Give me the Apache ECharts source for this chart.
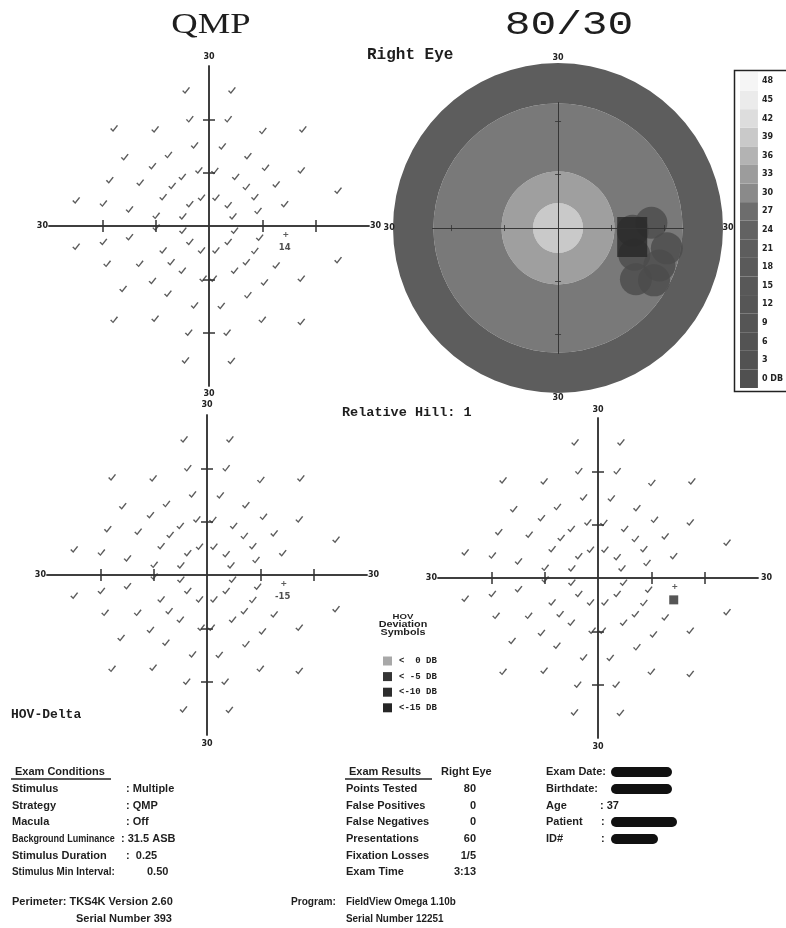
<!DOCTYPE html>
<html><head><meta charset="utf-8">
<script src="https://cdn.jsdelivr.net/npm/echarts@6/dist/echarts.min.js"></script>
<style>html,body{margin:0;padding:0;background:#fff}#c{width:786px;height:928px}</style>
</head><body><div id="c"></div>
<script>
// ---- data (degrees of visual field) ----
const checkPoints = [
  [-4.3,25.4],[4.3,25.4],
  [-3.6,20],[3.6,20],
  [-17.8,18.3],[-10.1,18.1],[10.1,17.8],[17.6,18.1],
  [-2.7,15.1],[2.5,14.9],
  [-15.8,12.9],[-7.6,13.3],[7.3,13.1],
  [-10.6,11.2],[-1.9,10.4],[1.1,10.3],[10.6,10.9],[17.3,10.4],
  [-5,9.2],[5,9.2],
  [-18.6,8.6],[-12.9,8.1],[-6.9,7.5],[7,7.3],[12.6,7.8],
  [24.2,6.6],
  [-8.6,5.4],[-1.4,5.3],[1.3,5.3],[8.6,5.4],
  [-24.9,4.8],[-19.8,4.2],[-3.6,4.1],[3.6,3.9],[14.2,4.1],
  [-14.9,3.1],[9.2,2.8],
  [-9.9,1.9],[-4.9,1.8],[4.5,1.8],
  [-9.9,-0.3],[-4.9,-0.9],[4.8,-0.9],
  [9.5,-2.2],[-14.9,-2.1],
  [-24.9,-3.9],[-19.8,-3],[-3.6,-3],[3.6,-3],
  [-8.6,-4.6],[-1.4,-4.6],[1.3,-4.6],[8.6,-4.7],
  [-19.1,-7.1],[-13,-7.1],[-7.1,-6.8],[7,-6.8],[12.6,-7.4],[24.2,-6.4],
  [-5,-8.4],[4.8,-8.4],
  [-1.1,-9.9],[0.8,-9.9],[17.3,-9.9],[10.4,-10.6],
  [-16.1,-11.8],[-10.6,-10.3],
  [-7.7,-12.7],[7.3,-13],
  [-2.7,-14.9],[2.3,-15],
  [-17.8,-17.6],[-10.1,-17.4],[10,-17.6],[17.3,-18],
  [-3.8,-20],[3.4,-20],
  [-4.4,-25.2],[4.2,-25.3]
];
const blindSpot = [[14.4,-1.6]];
const failedPoint = [[14.2,-4.1]];
const qmpThreshold = ['14'];
const hovDelta = ['-15'];
const tickValues = [-20,-10,10,20];
// polar threshold map: ring outer radius (deg) from centre outward
const ringOuterRadius = [4.7,10.6,23.4,31];
const ringColors = ['#c9c9c9','#9f9f9f','#797979','#5d5d5d'];
const defectBlob = [[17.5,1],[14,-0.5],[20.4,-3.8],[14.3,-5],[19,-7],[14.6,-9.6],[18,-9.8]];
const defectCore = [[13.9,-1.7]];
// colour scale
const colorbarLevels = ['0','3','6','9','12','15','18','21','24','27','30','33','36','39','42','45','48'];
const colorbarShades = ['#505050','#525252','#535353','#555555','#565656','#585858','#5a5a5a','#5d5d5d','#626262','#6d6d6d','#8a8a8a','#9c9c9c','#b3b3b3','#c9c9c9','#dddddd','#ebebeb','#f5f5f5'];
const legendLabels = ['<  0 DB','< -5 DB','<-10 DB','<-15 DB'];
const legendShades = ['#a8a8a8','#353535','#2d2d2d','#262626'];
const condLabels = ['Stimulus','Strategy','Macula','Background Luminance','Stimulus Duration','Stimulus Min Interval:'];
const condValues = [': Multiple',': QMP',': Off',': 31.5 ASB',':  0.25','0.50'];
const resLabels = ['Points Tested','False Positives','False Negatives','Presentations','Fixation Losses','Exam Time'];
const resValues = ['80','0','0','60','1/5','3:13'];
const patLabels = ['Exam Date:','Birthdate:','Age','Patient','ID#'];

// ---- styles ----
const CHECK = 'path://M0,5.6L1.5,4.5L3.6,7.1L8.5,0L10,1.1L3.8,9.8Z';
const PLUS = 'path://M4,0H6V4H10V6H6V10H4V6H0V4H4Z';
const SANS = '"Liberation Sans"';
const MONO = '"Liberation Mono"';
const axisName = {fontFamily:'DejaVu Sans', fontWeight:'bold', fontSize:8, color:'#222'};

const grids = [
  {left:49, top:66, width:320, height:320},
  {left:432.7, top:102.7, width:250.7, height:250.7},
  {left:47, top:415, width:320, height:320},
  {left:438, top:418, width:320, height:320},
  {left:740, top:72, width:22, height:316}
];
const xAxes = [], yAxes = [];
function crossAxes(g, range, o) {
  const ls = {color:o.color, width:o.width};
  const base = {type:'value', gridIndex:g, min:-range, max:range, axisLabel:{show:false},
    splitLine:{show:false}, z:o.z, name:'30', nameTextStyle:axisName};
  const tick = {show:true, inside:false, length:o.tick, customValues:tickValues, lineStyle:ls};
  const line = {show:true, onZero:true, onZeroAxisIndex:2*g, lineStyle:ls};
  xAxes.push({...base, position:'bottom', axisLine:line, axisTick:tick, nameLocation:'start', nameGap:o.gl});
  xAxes.push({...base, position:'top', axisLine:line, axisTick:tick, nameLocation:'end', nameGap:o.gr});
  yAxes.push({...base, position:'left', axisLine:line, axisTick:tick, nameLocation:'end', nameGap:o.gt});
  yAxes.push({...base, position:'right', axisLine:line, axisTick:tick, nameLocation:'start', nameGap:o.gb});
}
crossAxes(0, 30, {color:'#333', width:1.5, tick:6, z:1, gl:1, gr:1, gt:5, gb:4});
crossAxes(1, 23.5, {color:'#333', width:0.8, tick:3, z:10, gl:38, gr:39, gt:41, gb:41});
crossAxes(2, 30, {color:'#333', width:1.5, tick:6, z:1, gl:1, gr:1, gt:6, gb:5});
crossAxes(3, 30, {color:'#333', width:1.5, tick:6, z:1, gl:1, gr:3, gt:4, gb:5});
xAxes.push({type:'value', gridIndex:4, min:0, max:1, show:false});
yAxes.push({type:'category', gridIndex:4, data:colorbarLevels, position:'right',
  axisLine:{show:false, onZero:false}, axisTick:{show:false},
  axisLabel:{margin:4, fontFamily:'DejaVu Sans', fontWeight:'bold', fontSize:8, color:'#222',
    formatter:v => v === '0' ? '0 DB' : v}});

const series = [];
// polar rings
ringOuterRadius.forEach((r, i) => {
  const inner = i === 0 ? 0 : ringOuterRadius[i-1];
  series.push({type:'bar', coordinateSystem:'polar', stack:'field', barCategoryGap:'0%',
    data:[r - inner], itemStyle:{color:ringColors[i]}, silent:true, z:1});
});
series.push({type:'scatter', xAxisIndex:2, yAxisIndex:2, data:defectBlob, symbol:'circle',
  symbolSize:32, itemStyle:{color:'#4b4b4b'}, clip:false, silent:true, z:3});
series.push({type:'scatter', xAxisIndex:2, yAxisIndex:2, data:defectCore, symbol:'rect',
  symbolSize:[30,40], itemStyle:{color:'#262626'}, clip:false, silent:true, z:4});
// check plots
[0,2,3].forEach(g => {
  series.push({type:'scatter', xAxisIndex:2*g, yAxisIndex:2*g, data:checkPoints, symbol:CHECK,
    symbolSize:[8,7], itemStyle:{color:'#333'}, silent:true, z:5});
  series.push({type:'scatter', xAxisIndex:2*g, yAxisIndex:2*g, data:blindSpot, symbol:PLUS,
    symbolSize:5, itemStyle:{color:'#333'}, silent:true, z:5});
});
const valueLabel = {show:true, position:'inside', formatter:'{b}', fontFamily:'DejaVu Sans',
  fontWeight:'bold', fontSize:8.5, color:'#222'};
series.push({type:'scatter', xAxisIndex:0, yAxisIndex:0,
  data:failedPoint.map((p,i) => ({value:p, name:qmpThreshold[i]})),
  symbolSize:1, itemStyle:{color:'rgba(0,0,0,0)'}, label:valueLabel, silent:true, z:6});
series.push({type:'scatter', xAxisIndex:4, yAxisIndex:4,
  data:failedPoint.map((p,i) => ({value:p, name:hovDelta[i]})),
  symbolSize:1, itemStyle:{color:'rgba(0,0,0,0)'}, label:valueLabel, silent:true, z:6});
series.push({type:'scatter', xAxisIndex:6, yAxisIndex:6, data:failedPoint, symbol:'rect',
  symbolSize:9, itemStyle:{color:'#2c2c2c'}, silent:true, z:6});
// colour bar
series.push({type:'bar', xAxisIndex:8, yAxisIndex:8, barCategoryGap:'0%', silent:true,
  data:colorbarShades.map(c => ({value:1, itemStyle:{color:c}}))});

// ---- text / decorations ----
function txt(text, x, y, font, align, extra) {
  return Object.assign({type:'text', x, y, silent:true, style:{text, font, fill:'#1e1e1e',
    align:align||'left', verticalAlign:'middle', textAlign:align||'left', textVerticalAlign:'middle'}}, extra||{});
}
const B = 'bold 11px ' + SANS;
const g = [];
g.push(txt('QMP', 211, 25, '30px "Liberation Serif"', 'center', {scaleX:1.22}));
g.push(txt('80/30', 569, 25, '33px ' + MONO, 'center', {scaleX:1.3}));
g.push(txt('Right Eye', 367, 55, 'bold 16px ' + MONO));
g.push(txt('Relative Hill: 1', 342, 413, 'bold 13.5px ' + MONO));
g.push(txt('HOV-Delta', 11, 715, 'bold 13px ' + MONO));
// colour bar frame
g.push({type:'rect', silent:true, shape:{x:734.5, y:70.5, width:70, height:321},
  style:{fill:'none', stroke:'#222', lineWidth:1.5}});
// deviation legend
g.push(txt('HOV', 403, 617, 'bold 8px ' + SANS, 'center', {scaleX:1.2}));
g.push(txt('Deviation', 403, 625, 'bold 9px ' + SANS, 'center', {scaleX:1.2}));
g.push(txt('Symbols', 403, 633, 'bold 9px ' + SANS, 'center', {scaleX:1.2}));
legendLabels.forEach((l, i) => {
  const y = 661 + i * 15.6;
  g.push({type:'rect', silent:true, shape:{x:383, y:y-4.5, width:9, height:9}, style:{fill:legendShades[i]}});
  g.push(txt(l, 399, y, 'bold 9px ' + MONO));
});
// exam conditions
const rowY = [789, 805.5, 822, 839, 855.5, 872];
g.push(txt('Exam Conditions', 15, 772, B));
g.push({type:'line', silent:true, shape:{x1:11, y1:779, x2:111, y2:779}, style:{stroke:'#222', lineWidth:1.3}});
condLabels.forEach((l, i) => {
  const sx = i === 3 ? 0.82 : (i === 5 ? 0.9 : 1);
  g.push(txt(l, 12, rowY[i], B, 'left', {scaleX:sx}));
});
const condX = [126, 126, 126, 121, 126, 147];
condValues.forEach((v, i) => g.push(txt(v, condX[i], rowY[i], B)));
g.push(txt('Perimeter: TKS4K Version 2.60', 12, 902, B));
g.push(txt('Serial Number 393', 76, 919, B));
// exam results
g.push(txt('Exam Results', 349, 772, B));
g.push({type:'line', silent:true, shape:{x1:345, y1:779, x2:432, y2:779}, style:{stroke:'#222', lineWidth:1.3}});
g.push(txt('Right Eye', 441, 772, B));
resLabels.forEach((l, i) => g.push(txt(l, 346, rowY[i], B)));
resValues.forEach((v, i) => g.push(txt(v, 476, rowY[i], B, 'right')));
g.push(txt('Program:', 291, 902, B, 'left', {scaleX:0.92}));
g.push(txt('FieldView Omega 1.10b', 346, 902, B, 'left', {scaleX:0.9}));
g.push(txt('Serial Number 12251', 346, 919, B, 'left', {scaleX:0.9}));
// patient block (redacted)
const patY = [772, 789, 805.5, 822, 839];
patLabels.forEach((l, i) => g.push(txt(l, 546, patY[i], B)));
g.push(txt(': 37', 600, 805.5, B));
g.push(txt(':', 601, 822, B));
g.push(txt(':', 601, 839, B));
[[611,672,772],[611,672,789],[611,677,822],[611,658,839]].forEach(b => {
  g.push({type:'rect', silent:true, shape:{x:b[0], y:b[2]-5, width:b[1]-b[0], height:10, r:5}, style:{fill:'#111'}});
});

const chart = echarts.init(document.getElementById('c'), null, {renderer:'canvas'});
chart.setOption({
  animation:false,
  backgroundColor:'#ffffff',
  grid:grids,
  xAxis:xAxes,
  yAxis:yAxes,
  polar:{center:[558,228], radius:165},
  angleAxis:{type:'category', data:['field'], startAngle:90, show:false},
  radiusAxis:{type:'value', min:0, max:31, show:false},
  series,
  graphic:{elements:g}
});
</script></body></html>
